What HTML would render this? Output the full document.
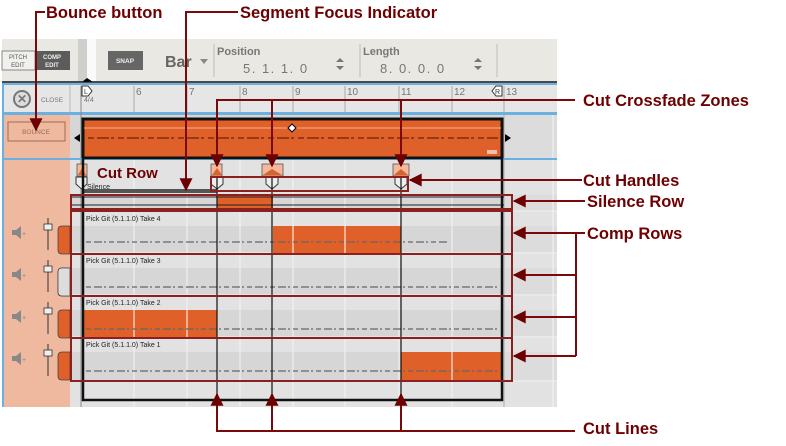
<!DOCTYPE html>
<html><head><meta charset="utf-8"><style>
body{margin:0;background:#fff;}
svg{display:block;font-family:"Liberation Sans",sans-serif;}
</style></head><body>
<svg width="786" height="446" viewBox="0 0 786 446" xmlns="http://www.w3.org/2000/svg">
<defs>
<marker id="ah" viewBox="0 0 10 10" refX="9" refY="5" markerWidth="7" markerHeight="6.5" orient="auto"><path d="M0,0 L10,5 L0,10 z" fill="#6d0000"/></marker>
</defs>
<!-- toolbar -->
<rect x="2" y="39" width="555" height="43" fill="#e9e8e2"/>
<rect x="2" y="51" width="33" height="19" fill="#f0f0ec" stroke="#888" stroke-width="1"/>
<text x="18" y="59" font-size="6" fill="#555" text-anchor="middle">PITCH</text>
<text x="18" y="67" font-size="6" fill="#555" text-anchor="middle">EDIT</text>
<rect x="35" y="51" width="35" height="19" fill="#5c5c5c"/>
<text x="52" y="59" font-size="6" fill="#eee" text-anchor="middle" font-weight="bold">COMP</text>
<text x="52" y="67" font-size="6" fill="#eee" text-anchor="middle" font-weight="bold">EDIT</text>
<rect x="78" y="39" width="9" height="43" fill="#cfcfcb"/>
<rect x="87" y="39" width="9" height="43" fill="#fafafa"/>
<path d="M82,82 L87,78 L93,82 z" fill="#000"/>
<rect x="108" y="51" width="35" height="19" fill="#666"/>
<text x="125" y="63" font-size="6.5" fill="#eee" text-anchor="middle" font-weight="bold">SNAP</text>
<text x="165" y="67" font-size="16" fill="#666" font-weight="bold">Bar</text>
<path d="M200,59 L208,59 L204,64 z" fill="#888"/>
<line x1="214" y1="44" x2="214" y2="77" stroke="#bbb"/>
<line x1="360" y1="44" x2="360" y2="77" stroke="#bbb"/>
<line x1="497" y1="44" x2="497" y2="77" stroke="#bbb"/>
<text x="217" y="55" font-size="11" fill="#777" font-weight="bold">Position</text>
<text x="243" y="73" font-size="13" fill="#777" letter-spacing="1.5">5.  1.  1.   0</text>
<path d="M336,62 L340,58 L344,62 z M336,66 L340,70 L344,66 z" fill="#777"/>
<text x="363" y="55" font-size="11" fill="#777" font-weight="bold">Length</text>
<text x="380" y="73" font-size="13" fill="#777" letter-spacing="1.5">8.  0.  0.   0</text>
<path d="M474,62 L478,58 L482,62 z M474,66 L478,70 L482,66 z" fill="#777"/>
<line x1="2" y1="82" x2="557" y2="82" stroke="#111" stroke-width="1.5"/>
<!-- ruler -->
<rect x="2" y="83" width="555" height="31" fill="#e6e6e6"/>
<rect x="2" y="83" width="555" height="2" fill="#6ab0e0"/>
<rect x="2" y="83" width="2" height="324" fill="#6ab0e0"/>
<line x1="70" y1="85" x2="70" y2="114" stroke="#bbb"/>
<circle cx="22" cy="99" r="8" fill="#ddd" stroke="#777" stroke-width="2"/>
<text x="22" y="103" font-size="12" fill="#777" text-anchor="middle" font-weight="bold">✕</text>
<text x="41" y="102" font-size="6.5" fill="#777">CLOSE</text>
<g font-size="10" fill="#777">
<text x="136" y="95">6</text><text x="189" y="95">7</text><text x="242" y="95">8</text><text x="295" y="95">9</text><text x="347" y="95">10</text><text x="401" y="95">11</text><text x="454" y="95">12</text><text x="506" y="95">13</text>
<text x="84" y="102" font-size="7">4/4</text>
</g>
<g stroke="#aaa">
<line x1="134" y1="86" x2="134" y2="114"/><line x1="187" y1="86" x2="187" y2="114"/><line x1="240" y1="86" x2="240" y2="114"/><line x1="293" y1="86" x2="293" y2="114"/><line x1="345" y1="86" x2="345" y2="114"/><line x1="399" y1="86" x2="399" y2="114"/><line x1="452" y1="86" x2="452" y2="114"/><line x1="504" y1="86" x2="504" y2="114"/>
</g>
<path d="M82,86 h6 l4,5 l-4,5 h-6 z" fill="#fff" stroke="#333"/><text x="84" y="94" font-size="7" fill="#333">L</text>
<path d="M502,86 h-6 l-4,5 l4,5 h6 z" fill="#fff" stroke="#333"/><text x="495" y="94" font-size="7" fill="#333">R</text>
<rect x="2" y="112" width="555" height="3" fill="#6ab0e0"/>
<!-- left panel -->
<rect x="4" y="115" width="66" height="292" fill="#efb9a0"/>
<rect x="8" y="122" width="57" height="19" fill="none" stroke="#a06a55"/>
<text x="36" y="134" font-size="6.5" fill="#9a6a55" text-anchor="middle">BOUNCE</text>
<!-- grid bg -->
<rect x="70" y="115" width="487" height="292" fill="#d6d6d6"/>
<rect x="502" y="115" width="55" height="292" fill="#dcdcdc"/>
<g fill="#e2e2e2">
<rect x="70" y="160" width="487" height="35"/>
<rect x="70" y="212" width="487" height="14"/><rect x="70" y="254" width="487" height="14"/><rect x="70" y="296" width="487" height="14"/><rect x="70" y="338" width="487" height="14"/>
<rect x="70" y="382" width="487" height="25"/>
</g>
<g stroke="#f4f4f4">
<line x1="134" y1="160" x2="134" y2="407"/><line x1="187" y1="160" x2="187" y2="407"/><line x1="240" y1="160" x2="240" y2="407"/><line x1="293" y1="160" x2="293" y2="407"/><line x1="345" y1="160" x2="345" y2="407"/><line x1="399" y1="160" x2="399" y2="407"/><line x1="452" y1="160" x2="452" y2="407"/><line x1="553" y1="115" x2="553" y2="407"/>
<line x1="70" y1="211" x2="557" y2="211"/><line x1="70" y1="253" x2="557" y2="253"/><line x1="70" y1="295" x2="557" y2="295"/><line x1="70" y1="337" x2="557" y2="337"/><line x1="70" y1="381" x2="557" y2="381"/>
</g>
<line x1="81" y1="86" x2="81" y2="407" stroke="#888"/>
<line x1="504" y1="115" x2="504" y2="407" stroke="#aaa"/>
<!-- main clip -->
<rect x="83" y="119" width="419" height="39" fill="#e0602a" stroke="#111" stroke-width="3"/>
<line x1="84" y1="128" x2="501" y2="128" stroke="#f3b090"/>
<line x1="88" y1="138" x2="498" y2="138" stroke="#7a3010" stroke-width="1.5" stroke-dasharray="6 3 12 2 3 4"/>
<path d="M292,124 l4,4 l-4,4 l-4,-4 z" fill="#fff" stroke="#000"/>
<path d="M80,134 l-6,4 l6,4 z" fill="#000"/><path d="M505,134 l6,4 l-6,4 z" fill="#000"/>
<rect x="487" y="150" width="10" height="4" fill="#fff" opacity=".6"/>
<rect x="2" y="158" width="555" height="2" fill="#6ab0e0"/>
<!-- cut row -->
<rect x="83" y="189" width="134" height="4" fill="#555"/>
<text x="87" y="189" font-size="7" fill="#222">Silence</text>
<text x="97" y="178" font-size="15" font-weight="bold" fill="#6d0000">Cut Row</text>
<g fill="#f5b89a" stroke="#555" stroke-width=".8">
<rect x="77" y="164" width="10" height="12"/><rect x="211" y="164" width="11" height="12"/><rect x="262" y="164" width="21" height="12"/><rect x="393" y="164" width="16" height="12"/>
</g>
<g fill="#e0602a">
<path d="M78,175 l4,-7 l4,7 z"/><path d="M212,175 l5,-7 l5,7 z"/><path d="M263,175 l9,-6 l10,6 z"/><path d="M394,175 l7,-6 l7,6 z"/>
</g>
<g fill="#eee" stroke="#333" stroke-width="1">
<path d="M76,177 h11 v7 l-5.5,5 l-5.5,-5 z"/><path d="M211,177 h12 v7 l-6,5 l-6,-5 z"/><path d="M266,177 h12 v7 l-6,5 l-6,-5 z"/><path d="M395,177 h12 v7 l-6,5 l-6,-5 z"/>
</g>
<!-- silence row -->
<rect x="217" y="195" width="56" height="14" fill="#e0602a"/>
<line x1="70" y1="197" x2="504" y2="197" stroke="#222"/>
<line x1="70" y1="205" x2="504" y2="205" stroke="#222"/>
<!-- comp rows -->
<rect x="273" y="226" width="128" height="28" fill="#e0602a"/>
<rect x="83" y="310" width="134" height="28" fill="#e0602a"/>
<rect x="401" y="352" width="101" height="29" fill="#e0602a"/>
<g stroke="#fff"><line x1="293" y1="226" x2="293" y2="254"/><line x1="345" y1="226" x2="345" y2="254"/><line x1="134" y1="310" x2="134" y2="338"/><line x1="187" y1="310" x2="187" y2="338"/><line x1="452" y1="352" x2="452" y2="381"/></g>
<g stroke="#666" stroke-width="1.3" stroke-dasharray="5 3 8 2 2 3">
<line x1="86" y1="242" x2="447" y2="242"/><line x1="86" y1="287" x2="498" y2="287"/><line x1="86" y1="329" x2="498" y2="329"/><line x1="86" y1="371" x2="498" y2="371"/>
</g>
<g font-size="7" fill="#222">
<text x="86" y="221">Pick Git (5.1.1.0) Take 4</text><text x="86" y="263">Pick Git (5.1.1.0) Take 3</text><text x="86" y="305">Pick Git (5.1.1.0) Take 2</text><text x="86" y="347">Pick Git (5.1.1.0) Take 1</text>
</g>
<g id="ctl">
<path d="M12,230 h4 l5,-4 v13 l-5,-4 h-4 z" fill="#888"/><text x="22" y="236" font-size="7" fill="#888">+</text>
<line x1="48" y1="218" x2="48" y2="250" stroke="#333"/><rect x="44" y="224" width="8" height="6" fill="#eee" stroke="#333" stroke-width=".8"/>
<path d="M70,226 h-8 q-4,0 -4,4 v20 q0,4 4,4 h8 z" fill="#e0602a" stroke="#444" stroke-width=".8"/>
</g>
<use href="#ctl" y="42"/><use href="#ctl" y="84"/><use href="#ctl" y="126"/>
<path d="M70,268 h-8 q-4,0 -4,4 v20 q0,4 4,4 h8 z" fill="#ddd" stroke="#444" stroke-width=".8"/>
<!-- frame and cut lines -->
<rect x="83" y="158" width="419" height="242" fill="none" stroke="#111" stroke-width="2.5"/>
<g stroke="#111" stroke-width="1.2"><line x1="217" y1="177" x2="217" y2="400"/><line x1="272" y1="177" x2="272" y2="400"/><line x1="401" y1="177" x2="401" y2="400"/></g>
<!-- annotations -->
<g stroke="#8a2020" stroke-width="2" fill="none">
<rect x="211" y="177" width="197" height="14"/>
<rect x="71" y="195" width="441" height="14"/>
<rect x="71" y="211" width="441" height="43"/>
<rect x="71" y="254" width="441" height="42"/>
<rect x="71" y="296" width="441" height="42"/>
<rect x="71" y="338" width="441" height="43"/>
</g>
<g stroke="#7a0a0a" stroke-width="2" fill="none" marker-end="url(#ah)">
<polyline points="45,12 36,12 36,130"/>
<polyline points="238,12 186,12 186,190"/>
<polyline points="575,100 217,100 217,166"/>
<polyline points="272,100 272,166"/>
<polyline points="401,100 401,166"/>
<polyline points="582,180 410,180"/>
<polyline points="585,201 514,201"/>
<polyline points="585,233 576,233 514,233"/>
<polyline points="576,275 514,275"/>
<polyline points="576,317 514,317"/>
<polyline points="576,356 514,356"/>
<polyline points="575,431 217,431 217,394"/>
<polyline points="272,431 272,394"/>
<polyline points="401,431 401,394"/>
</g>
<line x1="576" y1="233" x2="576" y2="356" stroke="#7a0a0a" stroke-width="2"/>
<g font-size="16.5" font-weight="bold" fill="#6d0000">
<text x="46" y="18">Bounce button</text>
<text x="240" y="18">Segment Focus Indicator</text>
<text x="583" y="106">Cut Crossfade Zones</text>
<text x="583" y="186">Cut Handles</text>
<text x="587" y="207">Silence Row</text>
<text x="587" y="239">Comp Rows</text>
<text x="583" y="434">Cut Lines</text>
</g>
</svg>
</body></html>
